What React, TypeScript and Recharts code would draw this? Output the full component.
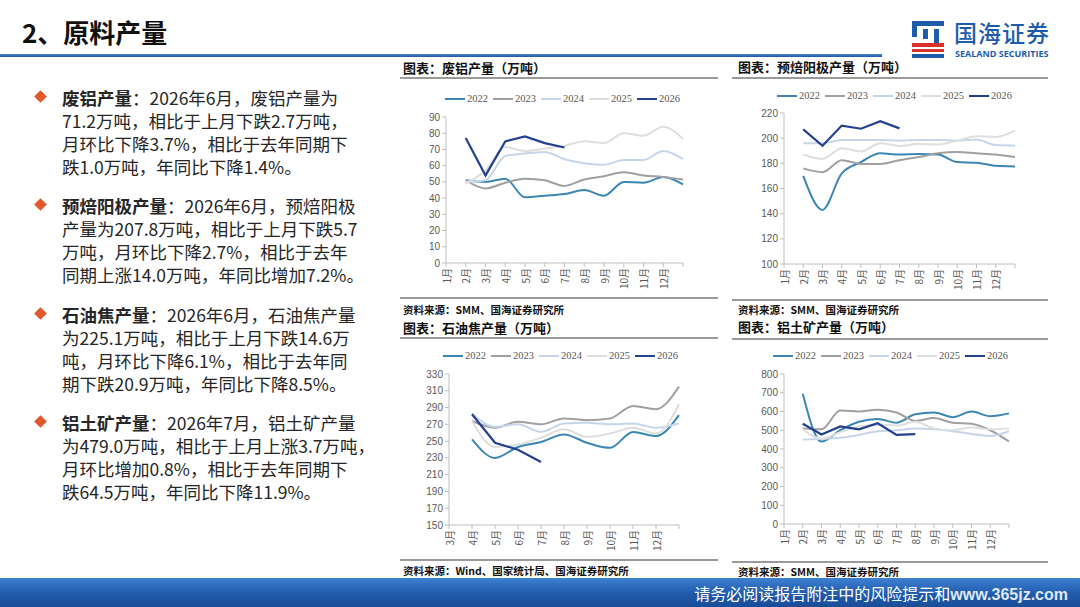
import { Legend, Line, LineChart, XAxis, YAxis } from "recharts";

const YEARS = ["2022", "2023", "2024", "2025", "2026"];

const MONTHS_JAN = ["1月", "2月", "3月", "4月", "5月", "6月", "7月", "8月", "9月", "10月", "11月", "12月", ""];
const MONTHS_MAR = ["3月", "4月", "5月", "6月", "7月", "8月", "9月", "10月", "11月", "12月", ""];

// 废铝产量（万吨）
const SCRAP_2022 = [51, 50, 52, 40.5, 41.5, 42.5, 45, 41.5, 50, 49.5, 53, 48.5];
const SCRAP_2023 = [51, 46, 49.5, 52, 51, 47.5, 51.5, 53.5, 56, 54, 53, 51.5];
const SCRAP_2024 = [50, 51, 66, 67.5, 68.5, 64, 61.5, 60.5, 63.5, 63.5, 69, 64];
const SCRAP_2025 = [49, 57, 71.5, 69, 70.5, 72.2, 75, 74, 80, 78.5, 84, 76.5];
const SCRAP_2026 = [77, 54, 75, 78, 73.9, 71.2];
const SCRAP_TICKS = [0, 10, 20, 30, 40, 50, 60, 70, 80, 90];

// 预焙阳极产量（万吨）
const ANODE_2022 = [170, 143, 172, 181, 188, 187, 187.5, 187, 181, 180.5, 178, 177.5];
const ANODE_2023 = [176, 173, 182.5, 179.5, 179.5, 182.5, 185, 188, 189, 188, 187, 185];
const ANODE_2024 = [196, 196, 198.5, 198.5, 198.5, 198, 198.5, 198.5, 198, 199, 194.5, 194];
const ANODE_2025 = [187, 183.5, 192, 189.5, 196, 193.8, 195.5, 195, 198, 201.5, 201, 206];
const ANODE_2026 = [207, 194, 210, 207.5, 213.5, 207.8];
const ANODE_TICKS = [100, 120, 140, 160, 180, 200, 220];

// 石油焦产量（万吨）
const COKE_2022 = [252, 230, 243, 249, 258, 248, 242, 261, 256, 281];
const COKE_2023 = [274, 266, 273, 270, 277, 275, 277, 292, 288, 315];
const COKE_2024 = [283, 267, 270, 261, 271, 272, 270, 271, 266, 271];
const COKE_2025 = [274, 243, 246, 254, 264, 255, 259, 266, 259, 294];
const COKE_2026 = [282, 248, 239.7, 225.1];
const COKE_TICKS = [150, 170, 190, 210, 230, 250, 270, 290, 310, 330];

// 铝土矿产量（万吨）
const BAUXITE_2022 = [695, 440, 500, 545, 560, 540, 585, 595, 570, 600, 575, 590];
const BAUXITE_2023 = [510, 505, 605, 600, 610, 595, 550, 565, 540, 535, 500, 440];
const BAUXITE_2024 = [450, 455, 460, 475, 495, 500, 510, 505, 495, 480, 470, 495];
const BAUXITE_2025 = [505, 455, 490, 520, 530, 525, 545, 510, 500, 515, 505, 510];
const BAUXITE_2026 = [535, 477, 520, 505, 537, 475.3, 479];
const BAUXITE_TICKS = [0, 100, 200, 300, 400, 500, 600, 700, 800];

const LINE_COLORS = ["#3a86b4", "#a0a0a0", "#c6d6e8", "#dedede", "#24418f"];
const AXIS_GRAY = "#bfbfbf";
const LABEL_GRAY = "#595959";
const CJK = '"Noto Sans CJK SC", "Noto Sans", sans-serif';

// the first tick of each axis carries no point: values start one tick in
function buildRows(labels: string[], series: number[][]) {
  return labels.map((m, i) => {
    const row: Record<string, string | number | null> = { m };
    YEARS.forEach((y, k) => {
      const v = i === 0 ? undefined : series[k][i - 1];
      row[y] = v == null ? null : v;
    });
    return row;
  });
}

function MonthTick({ x, y, payload }: any) {
  return (
    <text
      x={x}
      y={y}
      transform={`rotate(-90, ${x}, ${y})`}
      textAnchor="end"
      dominantBaseline="central"
      fontSize={10}
      fill={LABEL_GRAY}
      fontFamily={CJK}
    >
      {payload.value}
    </text>
  );
}

function YearLegend({ payload }: any) {
  return (
    <div style={{ display: "flex", alignItems: "center", whiteSpace: "nowrap" }}>
      {(payload ?? []).map((e: any) => (
        <span
          key={e.value}
          style={{ display: "inline-flex", alignItems: "center", marginRight: 5 }}
        >
          <span style={{ width: 20, height: 2, background: e.color, marginRight: 2 }} />
          <span
            style={{
              fontFamily: '"Liberation Serif", serif',
              fontSize: 10.5,
              color: LABEL_GRAY,
              lineHeight: "12px",
            }}
          >
            {e.value}
          </span>
        </span>
      ))}
    </div>
  );
}

interface Box {
  x0: number;
  y0: number;
  x1: number;
  y1: number;
}

interface PanelProps {
  title: string;
  source: string;
  labels: string[];
  series: number[][];
  ticks: number[];
  plot: Box;
  legendAt: [number, number];
  frameLeft: number;
  frameRight: number;
  titleY: number;
  ruleY: number;
  bottomY: number;
  sourceY: number;
  textX: number;
}

function Panel(p: PanelProps) {
  const data = buildRows(p.labels, p.series);
  const left = p.plot.x0 - 40;
  const top = p.legendAt[1] - 16;
  const width = p.plot.x1 - left + 20;
  const height = p.plot.y1 - top + 30;

  return (
    <>
      <div
        style={{
          position: "absolute",
          left: p.textX,
          top: p.titleY - 9,
          fontSize: 13,
          fontWeight: 700,
          lineHeight: "18px",
          color: "#111",
          whiteSpace: "nowrap",
        }}
      >
        {p.title}
      </div>
      <div
        style={{
          position: "absolute",
          left: p.frameLeft,
          top: p.ruleY - 1,
          width: p.frameRight - p.frameLeft,
          height: 2,
          background: "#9a9a9a",
        }}
      />
      <div style={{ position: "absolute", left, top }}>
        <LineChart
          width={width}
          height={height}
          data={data}
          margin={{ top: p.plot.y0 - top, right: 20, bottom: 0, left: 10 }}
        >
          <XAxis
            dataKey="m"
            interval={0}
            height={30}
            tick={<MonthTick />}
            tickSize={4}
            tickMargin={1}
            axisLine={{ stroke: AXIS_GRAY }}
            tickLine={{ stroke: AXIS_GRAY }}
          />
          <YAxis
            width={30}
            domain={[p.ticks[0], p.ticks[p.ticks.length - 1]]}
            ticks={p.ticks}
            interval={0}
            tickSize={4}
            tickMargin={2}
            axisLine={{ stroke: AXIS_GRAY }}
            tickLine={{ stroke: AXIS_GRAY }}
            tick={{ fontSize: 10, fill: LABEL_GRAY, fontFamily: '"Liberation Sans", Arial, sans-serif' }}
          />
          <Legend
            layout="horizontal"
            verticalAlign="middle"
            align="center"
            content={<YearLegend />}
            wrapperStyle={{
              left: p.legendAt[0] - left,
              top: p.legendAt[1] - top - 6,
              width: "auto",
              height: "auto",
            }}
          />
          {YEARS.map((y, k) => (
            <Line
              key={y}
              name={y}
              dataKey={y}
              type={y === "2026" ? "linear" : "monotone"}
              stroke={LINE_COLORS[k]}
              strokeWidth={y === "2026" ? 2.2 : 2}
              dot={false}
              activeDot={false}
              isAnimationActive={false}
            />
          ))}
        </LineChart>
      </div>
      <div
        style={{
          position: "absolute",
          left: p.frameLeft,
          top: p.bottomY - 1,
          width: p.frameRight - p.frameLeft,
          height: 2,
          background: "#9a9a9a",
        }}
      />
      <div
        style={{
          position: "absolute",
          left: p.textX,
          top: p.sourceY - 7,
          fontSize: 10.5,
          fontWeight: 700,
          lineHeight: "14px",
          color: "#111",
          whiteSpace: "nowrap",
        }}
      >
        {p.source}
      </div>
    </>
  );
}

const BULLETS: { head: string; lines: string[] }[] = [
  {
    head: "废铝产量",
    lines: [
      "：2026年6月，废铝产量为",
      "71.2万吨，相比于上月下跌2.7万吨，",
      "月环比下降3.7%，相比于去年同期下",
      "跌1.0万吨，年同比下降1.4%。",
    ],
  },
  {
    head: "预焙阳极产量",
    lines: [
      "：2026年6月，预焙阳极",
      "产量为207.8万吨，相比于上月下跌5.7",
      "万吨，月环比下降2.7%，相比于去年",
      "同期上涨14.0万吨，年同比增加7.2%。",
    ],
  },
  {
    head: "石油焦产量",
    lines: [
      "：2026年6月，石油焦产量",
      "为225.1万吨，相比于上月下跌14.6万",
      "吨，月环比下降6.1%，相比于去年同",
      "期下跌20.9万吨，年同比下降8.5%。",
    ],
  },
  {
    head: "铝土矿产量",
    lines: [
      "：2026年7月，铝土矿产量",
      "为479.0万吨，相比于上月上涨3.7万吨，",
      "月环比增加0.8%，相比于去年同期下",
      "跌64.5万吨，年同比下降11.9%。",
    ],
  },
];
const BULLET_TOPS = [97, 205, 314, 422];

function Logo() {
  return (
    <div style={{ position: "absolute", left: 910, top: 18, width: 150, height: 42 }}>
      <div style={{ position: "absolute", left: 2, top: 3, width: 32, height: 5, background: "#1d5cab" }} />
      <div style={{ position: "absolute", left: 2, top: 3, width: 5, height: 16, background: "#1d5cab" }} />
      <div style={{ position: "absolute", left: 13, top: 11, width: 5, height: 10, background: "#1d5cab" }} />
      <div style={{ position: "absolute", left: 24, top: 11, width: 5, height: 14, background: "#1d5cab" }} />
      <div style={{ position: "absolute", left: 2, top: 25, width: 32, height: 4, background: "#d9342b" }} />
      <div style={{ position: "absolute", left: 2, top: 31, width: 32, height: 3, background: "#d9342b" }} />
      <div style={{ position: "absolute", left: 2, top: 36, width: 32, height: 4, background: "#1d5cab" }} />
      <div
        style={{
          position: "absolute",
          left: 44,
          top: 2,
          fontSize: 23,
          lineHeight: "24px",
          fontWeight: 500,
          color: "#1d5cab",
          letterSpacing: 1,
          whiteSpace: "nowrap",
        }}
      >
        国海证券
      </div>
      <div
        style={{
          position: "absolute",
          left: 45,
          top: 31,
          fontSize: 9,
          lineHeight: "10px",
          fontWeight: 700,
          color: "#1d5cab",
          fontFamily: '"Open Sans", "Liberation Sans", sans-serif',
          whiteSpace: "nowrap",
        }}
      >
        SEALAND SECURITIES
      </div>
    </div>
  );
}

export default function App() {
  return (
    <div
      style={{
        position: "absolute",
        left: 0,
        top: 0,
        width: 1080,
        height: 607,
        overflow: "hidden",
        background: "#fff",
        fontFamily: CJK,
      }}
    >
      <div
        style={{
          position: "absolute",
          left: 22,
          top: 14,
          fontSize: 26,
          fontWeight: 700,
          lineHeight: "36px",
          color: "#111",
          whiteSpace: "nowrap",
        }}
      >
        2、原料产量
      </div>
      <div
        style={{
          position: "absolute",
          left: 0,
          top: 54,
          width: 882,
          height: 3,
          background: "linear-gradient(180deg, #4a86cc, #1e56a3)",
        }}
      />
      <Logo />

      {BULLETS.map((b, i) => (
        <div key={b.head} style={{ position: "absolute", left: 0, top: BULLET_TOPS[i] - 11.5 }}>
          <div
            style={{
              position: "absolute",
              left: 36,
              top: 6.5,
              width: 9,
              height: 9,
              background: "#e2572b",
              transform: "rotate(45deg)",
            }}
          />
          <div
            style={{
              position: "absolute",
              left: 62,
              top: 0,
              fontSize: 17.5,
              lineHeight: "23px",
              color: "#262626",
              whiteSpace: "nowrap",
            }}
          >
            {b.lines.map((l, k) => (
              <div key={k}>
                {k === 0 && <span style={{ fontWeight: 700 }}>{b.head}</span>}
                {l}
              </div>
            ))}
          </div>
        </div>
      ))}

      <Panel
        title="图表：废铝产量（万吨）"
        source="资料来源：SMM、国海证券研究所"
        labels={MONTHS_JAN}
        series={[SCRAP_2022, SCRAP_2023, SCRAP_2024, SCRAP_2025, SCRAP_2026]}
        ticks={SCRAP_TICKS}
        plot={{ x0: 446, y0: 117, x1: 683, y1: 263 }}
        legendAt={[445, 99]}
        frameLeft={400}
        frameRight={718}
        titleY={68}
        ruleY={78}
        bottomY={298}
        sourceY={310}
        textX={403}
      />
      <Panel
        title="图表：预焙阳极产量（万吨）"
        source="资料来源：SMM、国海证券研究所"
        labels={MONTHS_JAN}
        series={[ANODE_2022, ANODE_2023, ANODE_2024, ANODE_2025, ANODE_2026]}
        ticks={ANODE_TICKS}
        plot={{ x0: 784, y0: 113, x1: 1015, y1: 264 }}
        legendAt={[777, 96]}
        frameLeft={732}
        frameRight={1048}
        titleY={67}
        ruleY={78}
        bottomY={300}
        sourceY={310}
        textX={738}
      />
      <Panel
        title="图表：石油焦产量（万吨）"
        source="资料来源：Wind、国家统计局、国海证券研究所"
        labels={MONTHS_MAR}
        series={[COKE_2022, COKE_2023, COKE_2024, COKE_2025, COKE_2026]}
        ticks={COKE_TICKS}
        plot={{ x0: 449, y0: 374, x1: 679, y1: 525 }}
        legendAt={[443, 356]}
        frameLeft={400}
        frameRight={718}
        titleY={328}
        ruleY={338}
        bottomY={560}
        sourceY={571}
        textX={403}
      />
      <Panel
        title="图表：铝土矿产量（万吨）"
        source="资料来源：SMM、国海证券研究所"
        labels={MONTHS_JAN}
        series={[BAUXITE_2022, BAUXITE_2023, BAUXITE_2024, BAUXITE_2025, BAUXITE_2026]}
        ticks={BAUXITE_TICKS}
        plot={{ x0: 784, y0: 374, x1: 1009, y1: 524 }}
        legendAt={[773, 356]}
        frameLeft={732}
        frameRight={1048}
        titleY={327}
        ruleY={339}
        bottomY={562}
        sourceY={572}
        textX={738}
      />

      <div
        style={{
          position: "absolute",
          left: 0,
          top: 578,
          width: 1080,
          height: 29,
          background: "linear-gradient(180deg, #3f80d0 0%, #1f5aab 55%, #1a4d98 100%)",
        }}
      />
      <div
        style={{
          position: "absolute",
          right: 12,
          top: 580,
          fontSize: 16,
          lineHeight: "26px",
          color: "#fff",
          whiteSpace: "nowrap",
        }}
      >
        请务必阅读报告附注中的风险提示和
        <span
          style={{
            fontFamily: '"Liberation Sans", Arial, sans-serif',
            fontWeight: 700,
            fontSize: 16,
            color: "#dfe8f5",
          }}
        >
          www.365jz.com
        </span>
      </div>
    </div>
  );
}
